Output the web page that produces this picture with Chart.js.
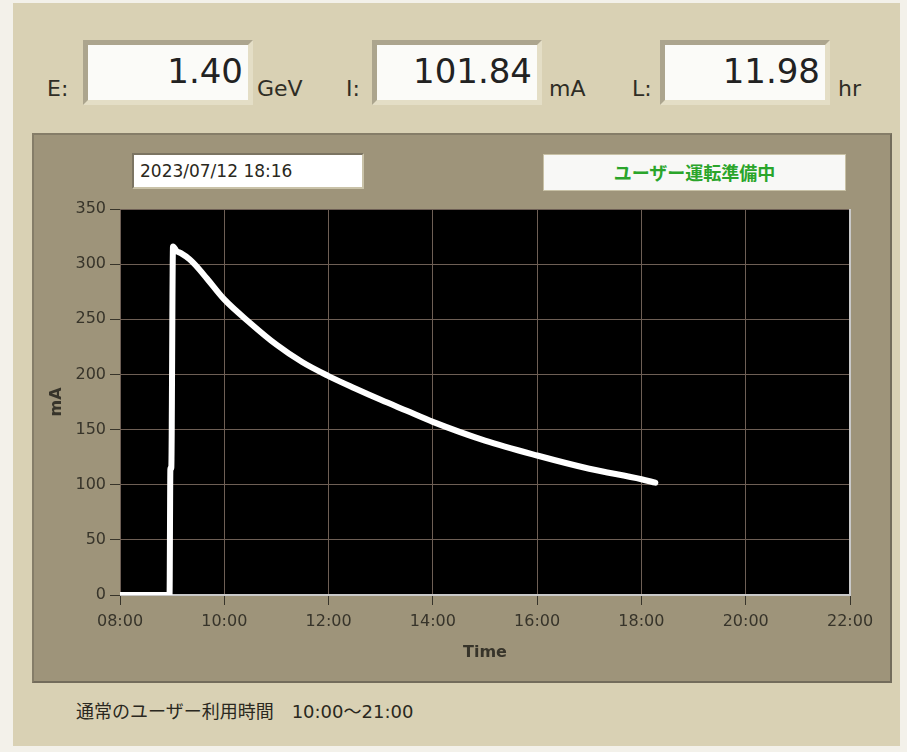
<!DOCTYPE html>
<html>
<head>
<meta charset="utf-8">
<script src="https://cdn.jsdelivr.net/npm/chart.js@4.4.0/dist/chart.umd.min.js"></script>
<style>
  body { margin: 0; width: 907px; height: 752px; position: relative; overflow: hidden;
         background: #f3f1ea; font-family: 'DejaVu Sans', sans-serif; color: #2f2d25; }
  #frame { position: absolute; left: 13px; top: 3px; width: 887px; height: 743px; background: #d9d1b4; }
  .lbl { position: absolute; font-size: 22px; line-height: 1; white-space: nowrap; }
  .box { position: absolute; top: 40px; width: 170px; height: 65px; box-sizing: border-box;
         border: 5px solid; border-color: #aca58e #e4dec6 #e4dec6 #aca58e; background: #fbfbf8; }
  .num { position: absolute; right: 5px; top: 9px; font-size: 34px; line-height: 1; color: #222; }
  #panel { position: absolute; left: 32px; top: 133px; width: 860px; height: 550px; box-sizing: border-box;
           background: #9e947a; border: 2px solid; border-color: #857d68 #736c5b #736c5b #857d68; }
  #chart { position: absolute; left: 32px; top: 133px; }
  #datebox { position: absolute; left: 132px; top: 153px; width: 232px; height: 36px; box-sizing: border-box;
             background: #fff; border: 2px solid; border-color: #7b7462 #c9c2a8 #c9c2a8 #7b7462;
             font-size: 17px; line-height: 32px; padding-left: 6px; color: #2a2820; }
  #status { position: absolute; left: 543px; top: 154px; width: 303px; height: 37px; box-sizing: border-box;
            background: #f8f8f6; border: 1px solid #c8c1a6; text-align: center; line-height: 35px;
            font-family: 'Noto Sans CJK JP', sans-serif; font-weight: bold; font-size: 18px; color: #2aa52a; }
  #note { position: absolute; left: 76px; top: 700px; font-size: 18px; line-height: 24px; color: #2a2820;
          font-family: 'DejaVu Sans', 'Noto Sans CJK JP', sans-serif; white-space: nowrap; }
</style>
</head>
<body>
<div id="frame"></div>

<div class="lbl" style="left:47px;top:78px">E:</div>
<div class="box" style="left:83px"><div class="num">1.40</div></div>
<div class="lbl" style="left:257px;top:78px">GeV</div>

<div class="lbl" style="left:346px;top:78px">I:</div>
<div class="box" style="left:372px"><div class="num">101.84</div></div>
<div class="lbl" style="left:549px;top:78px">mA</div>

<div class="lbl" style="left:632px;top:78px">L:</div>
<div class="box" style="left:660px"><div class="num">11.98</div></div>
<div class="lbl" style="left:838px;top:78px">hr</div>

<div id="panel"></div>
<canvas id="chart" width="860" height="550"></canvas>
<div id="datebox">2023/07/12 18:16</div>
<div id="status">ユーザー運転準備中</div>
<div id="note">通常のユーザー利用時間&emsp;10:00～21:00</div>

<script>
// beam current readings (time of day, mA)
var times = ['08:00', '08:57', '08:58', '08:59', '09:01', '09:05', '09:10', '09:20', '09:27', '09:40',
             '10:00', '10:30', '11:00', '11:30', '12:00', '12:30', '13:00', '13:30', '14:00', '15:00',
             '16:00', '17:00', '18:00', '18:16'];
var current = [0, 0, 115, 115, 316, 312, 310, 304.5, 299, 287,
               268, 246.5, 227, 211, 198.5, 187.5, 177, 167, 157, 140,
               126.5, 114.5, 105, 101.84];

var xTickLabels = ['08:00', '10:00', '12:00', '14:00', '16:00', '18:00', '20:00', '22:00'];
var yTickValues = [0, 50, 100, 150, 200, 250, 300, 350];

function toHours(t) {
  var p = t.split(':');
  return parseInt(p[0], 10) + parseInt(p[1], 10) / 60;
}

var points = [];
for (var i = 0; i < times.length; i++) {
  points.push({ x: toHours(times[i]), y: current[i] });
}

var textColor = '#37342a';
var gridColor = '#6e5f55';

// black plot area and its frame
var plotBg = {
  id: 'plotBg',
  beforeDraw: function (chart) {
    var a = chart.chartArea, ctx = chart.ctx;
    ctx.save();
    ctx.fillStyle = '#000';
    ctx.fillRect(a.left, a.top, a.right - a.left, a.bottom - a.top);
    ctx.restore();
  },
  beforeDatasetsDraw: function (chart) {
    var a = chart.chartArea, ctx = chart.ctx;
    ctx.save();
    ctx.lineWidth = 2;
    ctx.strokeStyle = '#c9c9c9';
    ctx.beginPath();
    ctx.moveTo(a.right, a.top);
    ctx.lineTo(a.right, a.bottom);
    ctx.lineTo(a.left, a.bottom);
    ctx.stroke();
    ctx.restore();
  }
};

Chart.defaults.font.family = "'DejaVu Sans', sans-serif";
Chart.defaults.font.size = 16;
Chart.defaults.color = textColor;

new Chart(document.getElementById('chart').getContext('2d'), {
  type: 'line',
  data: {
    datasets: [{
      data: points,
      borderColor: '#ffffff',
      borderWidth: 6,
      borderJoinStyle: 'round',
      borderCapStyle: 'round',
      pointRadius: 0,
      cubicInterpolationMode: 'monotone',
      fill: false
    }]
  },
  options: {
    responsive: false,
    animation: false,
    layout: { padding: { left: 0, right: 42, top: 76, bottom: 0 } },
    plugins: { legend: { display: false }, tooltip: { enabled: false } },
    scales: {
      x: {
        type: 'linear',
        min: toHours(xTickLabels[0]),
        max: toHours(xTickLabels[xTickLabels.length - 1]),
        afterBuildTicks: function (scale) {
          scale.ticks = xTickLabels.map(function (t) { return { value: toHours(t) }; });
        },
        afterFit: function (scale) { scale.height = 88; },
        ticks: {
          padding: 7,
          maxRotation: 0,
          autoSkip: false,
          callback: function (v) {
            var h = Math.floor(v), m = Math.round((v - h) * 60);
            return (h < 10 ? '0' : '') + h + ':' + (m < 10 ? '0' : '') + m;
          }
        },
        grid: { color: gridColor, tickColor: textColor, tickLength: 10, lineWidth: 1 },
        border: { display: false },
        title: { display: true, text: 'Time', font: { weight: 'bold', size: 16 }, padding: { top: 0, bottom: 21 } }
      },
      y: {
        min: yTickValues[0],
        max: yTickValues[yTickValues.length - 1],
        afterBuildTicks: function (scale) {
          scale.ticks = yTickValues.map(function (v) { return { value: v }; });
        },
        afterFit: function (scale) { scale.width = 88; },
        ticks: { padding: 4 },
        grid: { color: gridColor, tickColor: textColor, tickLength: 10, lineWidth: 1 },
        border: { display: false },
        title: { display: true, text: 'mA', font: { weight: 'bold', size: 16 }, padding: { top: 15, bottom: 0 } }
      }
    }
  },
  plugins: [plotBg]
});
</script>
</body>
</html>
